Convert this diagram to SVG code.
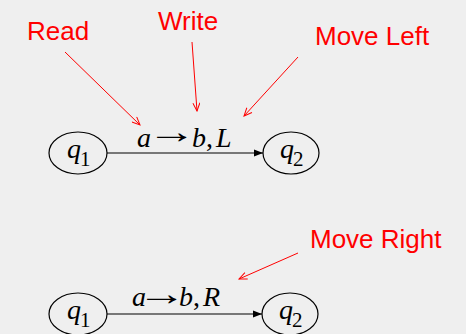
<svg xmlns="http://www.w3.org/2000/svg" width="466" height="334" viewBox="0 0 466 334">
<defs>
<marker id="redHead" markerWidth="10" markerHeight="8" refX="9" refY="4" orient="auto" markerUnits="userSpaceOnUse">
<path d="M1,0.5 L9,4 L1,7.5" fill="none" stroke="#ff0000" stroke-width="1"/>
</marker>
<marker id="blackHead" markerWidth="10" markerHeight="8" refX="9" refY="4" orient="auto" markerUnits="userSpaceOnUse">
<path d="M0,0.5 L9,4 L0,7.5 Z" fill="#000"/>
</marker>
<style>
.bg{fill:#efefef}
.lbl{font-family:"Liberation Sans",Arial,sans-serif;font-size:26px;fill:#ff0000}
.red{stroke:#ff0000;stroke-width:1;fill:none;marker-end:url(#redHead)}
.edge{stroke:#000;stroke-width:1.2;fill:none;marker-end:url(#blackHead)}
.st{fill:none;stroke:#000;stroke-width:1.2}
.m{font-family:"Liberation Serif","Times New Roman",serif;font-size:28px;font-style:italic;fill:#000}
.r{font-family:"Liberation Serif","Times New Roman",serif;font-size:28px;fill:#000}
.ar{font-family:"Liberation Serif","Times New Roman",serif;font-size:34px;fill:#000}
.sub{font-family:"Liberation Serif","Times New Roman",serif;font-size:21px;fill:#000}
</style>
</defs>
<rect class="bg" x="0" y="0" width="466" height="334"/>

<g id="label-read"><text class="lbl" x="27" y="40">Read</text></g>
<g id="label-write"><text class="lbl" x="158" y="30">Write</text></g>
<g id="label-moveleft"><text class="lbl" x="315" y="45">Move Left</text></g>
<g id="label-moveright"><text class="lbl" x="310" y="248">Move Right</text></g>

<g id="q1-top"><ellipse class="st" cx="78" cy="153" rx="29" ry="21"/><text class="m" x="67" y="158">q</text><text class="sub" x="80" y="166">1</text></g>
<g id="q2-top"><ellipse class="st" cx="291" cy="153" rx="28" ry="21"/><text class="m" x="280" y="158">q</text><text class="sub" x="293" y="166">2</text></g>
<g id="q1-bottom"><ellipse class="st" cx="78" cy="314" rx="29" ry="21"/><text class="m" x="67" y="319">q</text><text class="sub" x="80" y="327">1</text></g>
<g id="q2-bottom"><ellipse class="st" cx="290" cy="314" rx="28" ry="21"/><text class="m" x="279" y="319">q</text><text class="sub" x="292" y="327">2</text></g>

<g id="connectors">
<line class="edge" x1="107" y1="153" x2="263" y2="153"/>
<line class="edge" x1="107" y1="314" x2="262" y2="314"/>
<line class="red" x1="65" y1="52" x2="140" y2="125"/>
<line class="red" x1="192" y1="42" x2="197" y2="111"/>
<line class="red" x1="298" y1="57" x2="244" y2="116"/>
<line class="red" x1="298" y1="253" x2="239" y2="279"/>
</g>

<g id="edge-label-top">
<text class="m" x="137" y="147">a</text><text class="ar" transform="translate(147,143) scale(1.45,1)">→</text><text class="m" x="192" y="147">b</text><text class="r" x="206" y="147">,</text><text class="m" x="216" y="147">L</text>
</g>
<g id="edge-label-bottom">
<text class="m" x="132" y="306">a</text><text class="ar" transform="translate(137,305) scale(1.45,1)">→</text><text class="m" x="179" y="306">b</text><text class="r" x="193" y="306">,</text><text class="m" x="203" y="306">R</text>
</g>
</svg>
